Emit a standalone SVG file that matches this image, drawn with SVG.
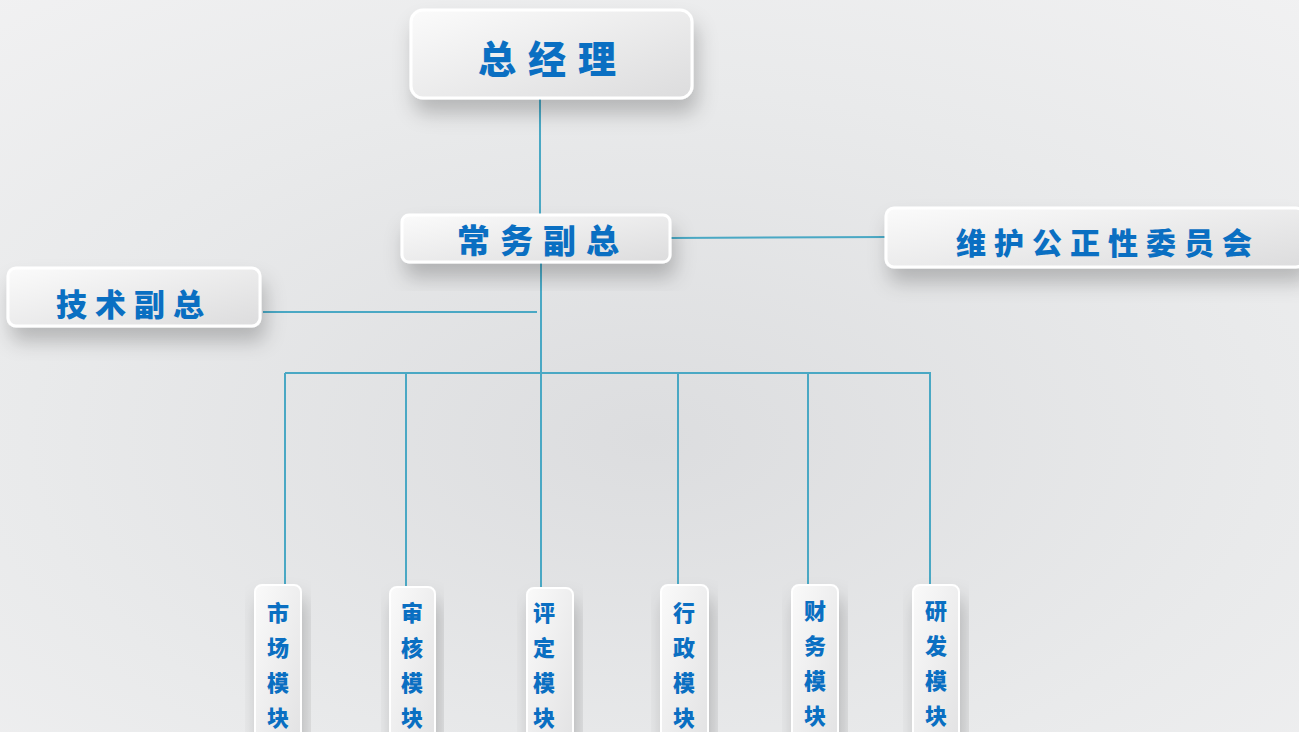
<svg xmlns="http://www.w3.org/2000/svg" width="1299" height="732" viewBox="0 0 1299 732">
<style>
.box{fill:url(#boxg);stroke:#ffffff;stroke-width:3;filter:url(#sh)}
.vbox{fill:url(#vboxg);stroke:#ffffff;stroke-width:2;filter:url(#sh)}
.t{font-family:"Noto Sans CJK SC","Noto Sans CJK TC",sans-serif;font-weight:900;fill:#0a6fc2;text-anchor:middle}
.c{fill:none;stroke:#4aa8c4;stroke-width:2}
</style>
<defs>
<radialGradient id="bg" cx="0.5" cy="0.6" r="0.8">
<stop offset="0" stop-color="#dcdddf"/>
<stop offset="0.6" stop-color="#e9eaeb"/>
<stop offset="1" stop-color="#f1f1f2"/>
</radialGradient>
<linearGradient id="boxg" x1="0" y1="0" x2="1" y2="1">
<stop offset="0" stop-color="#fbfbfb"/>
<stop offset="1" stop-color="#dcdcdd"/>
</linearGradient>
<linearGradient id="vboxg" x1="0" y1="0" x2="1" y2="1">
<stop offset="0" stop-color="#fafafa"/>
<stop offset="1" stop-color="#e2e2e3"/>
</linearGradient>
<filter id="sh" x="-20%" y="-20%" width="140%" height="180%">
<feDropShadow dx="4" dy="14" stdDeviation="10" flood-color="#000" flood-opacity="0.22"/>
</filter>
</defs>
<rect width="1299" height="732" fill="url(#bg)"/>
<g id="connectors">
<line class="c" x1="540" y1="99" x2="540" y2="215"/>
<line class="c" x1="541" y1="262" x2="541" y2="373"/>
<line class="c" x1="670" y1="238" x2="888" y2="237"/>
<line class="c" x1="263" y1="312" x2="537" y2="312"/>
<line class="c" x1="285" y1="373" x2="931" y2="373"/>
<line class="c" x1="285" y1="373" x2="285" y2="586"/>
<line class="c" x1="406" y1="373" x2="406" y2="586"/>
<line class="c" x1="541" y1="373" x2="541" y2="588"/>
<line class="c" x1="678" y1="373" x2="678" y2="586"/>
<line class="c" x1="808" y1="373" x2="808" y2="586"/>
<line class="c" x1="930" y1="373" x2="930" y2="586"/>
</g>
<g id="gm">
<rect class="box" x="411" y="10" width="281" height="88" rx="12"/>
<text class="t" x="553" y="73" font-size="38" letter-spacing="12">总经理</text>
</g>
<g id="evp">
<rect class="box" x="402" y="215" width="268" height="47" rx="7"/>
<text class="t" x="543" y="253" font-size="33" letter-spacing="10">常务副总</text>
</g>
<g id="committee">
<rect class="box" x="886" y="208" width="418" height="59" rx="8"/>
<text class="t" x="1108" y="254" font-size="30" letter-spacing="8">维护公正性委员会</text>
</g>
<g id="tech">
<rect class="box" x="8" y="268" width="252" height="58" rx="8"/>
<text class="t" x="134" y="316" font-size="31" letter-spacing="8">技术副总</text>
</g>
<g id="m1">
<rect class="vbox" x="255" y="585" width="46" height="160" rx="7"/>
<text class="t" x="278" font-size="22"><tspan x="278" y="621">市</tspan><tspan x="278" y="656">场</tspan><tspan x="278" y="691">模</tspan><tspan x="278" y="726">块</tspan></text>
</g>
<g id="m2">
<rect class="vbox" x="390" y="587" width="45" height="160" rx="7"/>
<text class="t" x="412" font-size="22"><tspan x="412" y="621">审</tspan><tspan x="412" y="656">核</tspan><tspan x="412" y="691">模</tspan><tspan x="412" y="726">块</tspan></text>
</g>
<g id="m3">
<rect class="vbox" x="527" y="588" width="46" height="160" rx="7"/>
<text class="t" x="544" font-size="22"><tspan x="544" y="621">评</tspan><tspan x="544" y="656">定</tspan><tspan x="544" y="691">模</tspan><tspan x="544" y="726">块</tspan></text>
</g>
<g id="m4">
<rect class="vbox" x="661" y="585" width="47" height="160" rx="7"/>
<text class="t" x="684" font-size="22"><tspan x="684" y="621">行</tspan><tspan x="684" y="656">政</tspan><tspan x="684" y="691">模</tspan><tspan x="684" y="726">块</tspan></text>
</g>
<g id="m5">
<rect class="vbox" x="792" y="585" width="46" height="160" rx="7"/>
<text class="t" x="815" font-size="22"><tspan x="815" y="619">财</tspan><tspan x="815" y="654">务</tspan><tspan x="815" y="689">模</tspan><tspan x="815" y="724">块</tspan></text>
</g>
<g id="m6">
<rect class="vbox" x="913" y="585" width="46" height="160" rx="7"/>
<text class="t" x="936" font-size="22"><tspan x="936" y="619">研</tspan><tspan x="936" y="654">发</tspan><tspan x="936" y="689">模</tspan><tspan x="936" y="724">块</tspan></text>
</g>
</svg>
